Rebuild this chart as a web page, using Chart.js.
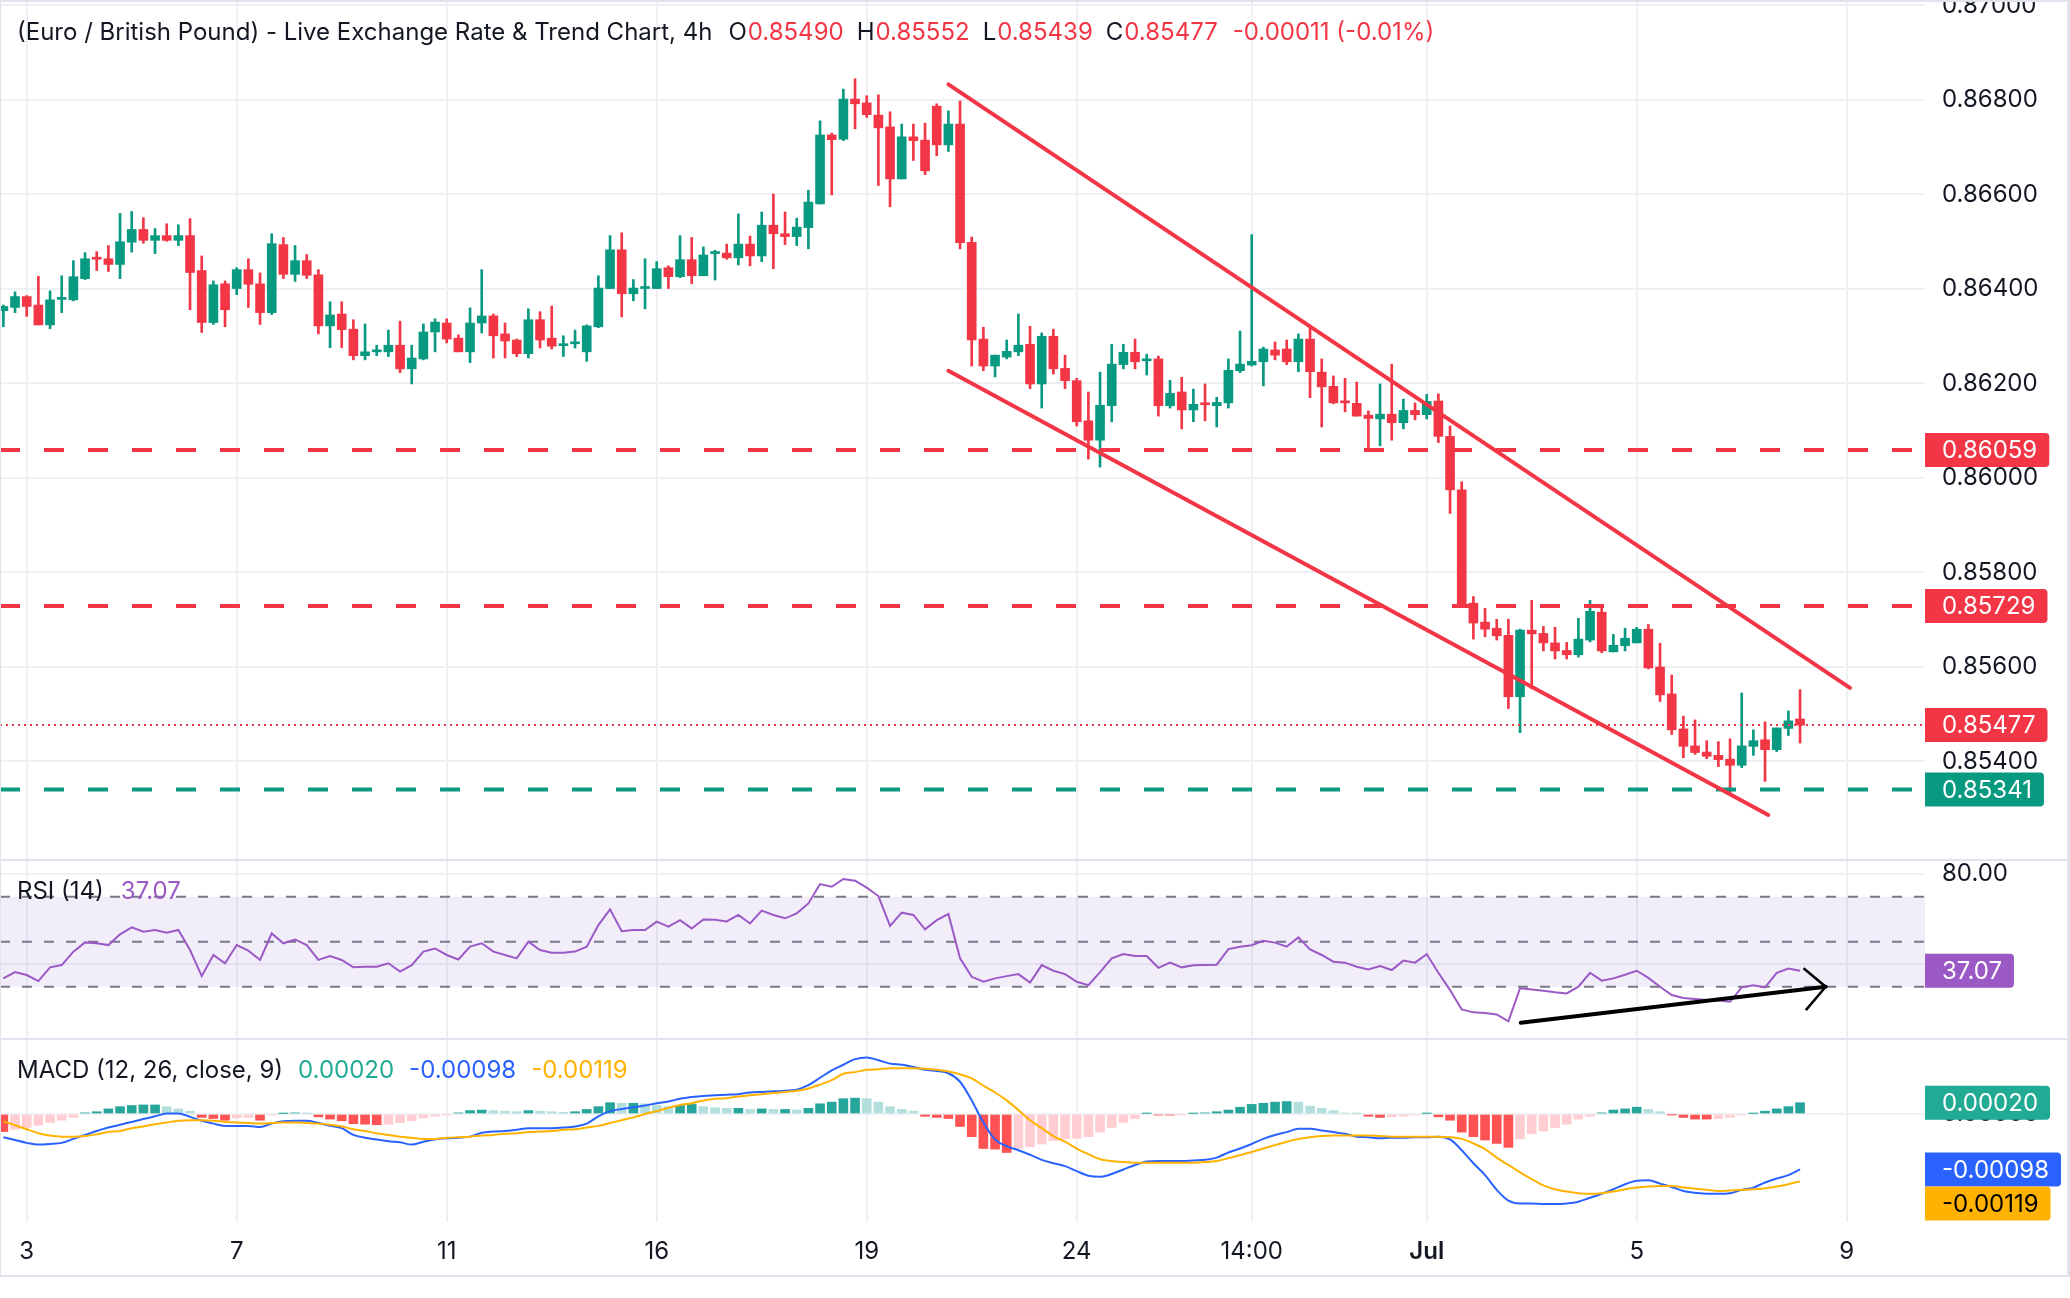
<!DOCTYPE html>
<html><head><meta charset="utf-8">
<script src="https://cdn.jsdelivr.net/npm/chart.js@4.4.1/dist/chart.umd.min.js"></script>
<style>
html,body{margin:0;padding:0;background:#fff;}
#wrap{position:relative;width:2070px;height:1298px;overflow:hidden;background:#fff;}
canvas{position:absolute;left:0;}
.ln{position:absolute;background:#E0E3EB;}
</style></head><body>
<div id="wrap">
<canvas id="main" width="2070" height="860" style="top:0;width:2070px;height:860px"></canvas>
<canvas id="rsi" width="2070" height="179" style="top:860px;width:2070px;height:179px"></canvas>
<canvas id="macd" width="2070" height="237" style="top:1039px;width:2070px;height:237px"></canvas>
<div class="ln" style="left:0;top:0;width:2070px;height:2px"></div>
<div class="ln" style="left:0;top:859px;width:2070px;height:2px"></div>
<div class="ln" style="left:0;top:1038px;width:2070px;height:2px"></div>
<div class="ln" style="left:0;top:1275px;width:2070px;height:2px"></div>
<div class="ln" style="left:2067px;top:0;width:3px;height:1277px"></div>
<div class="ln" style="left:0;top:0;width:1px;height:1277px"></div>
</div>
<script>
// ---------------- DATA ----------------
const OPEN = [0.86354,0.86361,0.86384,0.86366,0.86324,0.86378,0.86377,0.86422,0.86466,0.86464,
0.86452,0.86499,0.86526,0.86503,0.86513,0.86503,0.86513,0.86439,0.86329,0.86411,
0.86401,0.86441,0.86411,0.86350,0.86494,0.86431,0.86460,0.86430,0.86322,0.86347,
0.86315,0.86259,0.86267,0.86267,0.86281,0.86231,0.86252,0.86309,0.86328,0.86296,
0.86267,0.86328,0.86343,0.86305,0.86292,0.86263,0.86335,0.86296,0.86280,0.86284,
0.86267,0.86320,0.86401,0.86483,0.86390,0.86401,0.86401,0.86445,0.86426,0.86462,
0.86428,0.86475,0.86476,0.86466,0.86495,0.86470,0.86535,0.86517,0.86511,0.86530,
0.86580,0.86726,0.86717,0.86802,0.86794,0.86768,0.86743,0.86633,0.86722,0.86715,
0.86787,0.86705,0.86749,0.86499,0.86294,0.86237,0.86256,0.86267,0.86283,0.86199,
0.86300,0.86232,0.86206,0.86121,0.86080,0.86153,0.86240,0.86266,0.86248,0.86252,
0.86153,0.86182,0.86144,0.86159,0.86153,0.86159,0.86227,0.86239,0.86246,0.86271,
0.86273,0.86246,0.86294,0.86224,0.86194,0.86162,0.86158,0.86133,0.86125,0.86135,
0.86117,0.86143,0.86134,0.86163,0.86088,0.85975,0.85735,0.85695,0.85682,0.85667,
0.85537,0.85678,0.85671,0.85651,0.85635,0.85626,0.85657,0.85716,0.85632,0.85645,
0.85651,0.85680,0.85600,0.85543,0.85469,0.85433,0.85420,0.85413,0.85405,0.85392,
0.85432,0.85446,0.85425,0.85470,0.85490];
const HIGH = [0.86366,0.86394,0.86386,0.86427,0.86396,0.86428,0.86460,0.86477,0.86479,0.86492,
0.86560,0.86564,0.86551,0.86528,0.86538,0.86536,0.86549,0.86470,0.86417,0.86417,
0.86445,0.86464,0.86434,0.86517,0.86509,0.86492,0.86473,0.86441,0.86373,0.86373,
0.86335,0.86326,0.86281,0.86313,0.86332,0.86281,0.86326,0.86337,0.86337,0.86303,
0.86360,0.86441,0.86347,0.86328,0.86294,0.86358,0.86352,0.86364,0.86301,0.86313,
0.86324,0.86428,0.86513,0.86519,0.86420,0.86464,0.86458,0.86449,0.86513,0.86509,
0.86489,0.86482,0.86495,0.86559,0.86512,0.86563,0.86601,0.86563,0.86550,0.86609,
0.86756,0.86730,0.86823,0.86845,0.86809,0.86811,0.86775,0.86749,0.86749,0.86751,
0.86792,0.86777,0.86798,0.86510,0.86319,0.86260,0.86292,0.86347,0.86321,0.86307,
0.86315,0.86260,0.86211,0.86182,0.86224,0.86283,0.86283,0.86294,0.86262,0.86258,
0.86207,0.86213,0.86188,0.86199,0.86171,0.86252,0.86311,0.86515,0.86277,0.86288,
0.86292,0.86305,0.86317,0.86252,0.86216,0.86211,0.86203,0.86142,0.86199,0.86241,
0.86167,0.86159,0.86177,0.86178,0.86110,0.85992,0.85749,0.85724,0.85701,0.85701,
0.85680,0.85741,0.85686,0.85684,0.85652,0.85703,0.85741,0.85728,0.85669,0.85682,
0.85684,0.85690,0.85650,0.85583,0.85496,0.85488,0.85444,0.85442,0.85448,0.85545,
0.85467,0.85484,0.85471,0.85507,0.85552];
const LOW = [0.86320,0.86350,0.86342,0.86324,0.86316,0.86350,0.86375,0.86420,0.86439,0.86437,
0.86422,0.86478,0.86497,0.86475,0.86501,0.86492,0.86356,0.86308,0.86325,0.86320,
0.86388,0.86361,0.86325,0.86346,0.86422,0.86416,0.86422,0.86305,0.86276,0.86276,
0.86250,0.86250,0.86259,0.86257,0.86223,0.86199,0.86250,0.86267,0.86286,0.86267,
0.86244,0.86307,0.86254,0.86254,0.86257,0.86254,0.86275,0.86273,0.86257,0.86275,
0.86247,0.86318,0.86401,0.86341,0.86375,0.86358,0.86401,0.86401,0.86424,0.86411,
0.86428,0.86419,0.86463,0.86451,0.86449,0.86458,0.86443,0.86494,0.86492,0.86485,
0.86580,0.86599,0.86714,0.86739,0.86763,0.86619,0.86574,0.86633,0.86672,0.86642,
0.86682,0.86691,0.86485,0.86237,0.86227,0.86214,0.86252,0.86259,0.86189,0.86148,
0.86220,0.86189,0.86110,0.86040,0.86023,0.86119,0.86231,0.86231,0.86218,0.86131,
0.86148,0.86104,0.86119,0.86121,0.86108,0.86148,0.86223,0.86237,0.86195,0.86250,
0.86240,0.86225,0.86170,0.86108,0.86157,0.86140,0.86131,0.86060,0.86068,0.86080,
0.86104,0.86123,0.86125,0.86075,0.85925,0.85729,0.85659,0.85664,0.85657,0.85512,
0.85461,0.85554,0.85634,0.85617,0.85617,0.85621,0.85653,0.85630,0.85632,0.85634,
0.85651,0.85596,0.85527,0.85457,0.85408,0.85415,0.85406,0.85389,0.85333,0.85387,
0.85413,0.85358,0.85421,0.85455,0.85439];
const CLOSE = [0.86363,0.86384,0.86363,0.86324,0.86377,0.86382,0.86426,0.86464,0.86463,0.86452,
0.86500,0.86526,0.86503,0.86513,0.86503,0.86513,0.86435,0.86329,0.86409,0.86356,
0.86441,0.86410,0.86350,0.86496,0.86431,0.86460,0.86429,0.86322,0.86345,0.86314,
0.86259,0.86267,0.86271,0.86281,0.86231,0.86254,0.86309,0.86330,0.86294,0.86267,
0.86328,0.86343,0.86301,0.86290,0.86263,0.86335,0.86292,0.86279,0.86284,0.86288,
0.86322,0.86402,0.86483,0.86390,0.86402,0.86405,0.86443,0.86426,0.86462,0.86428,
0.86472,0.86479,0.86466,0.86495,0.86470,0.86535,0.86517,0.86511,0.86531,0.86584,
0.86726,0.86716,0.86802,0.86792,0.86769,0.86741,0.86633,0.86722,0.86714,0.86650,
0.86705,0.86749,0.86498,0.86292,0.86237,0.86260,0.86268,0.86281,0.86199,0.86300,
0.86231,0.86206,0.86119,0.86080,0.86154,0.86241,0.86266,0.86246,0.86252,0.86153,
0.86179,0.86144,0.86156,0.86155,0.86160,0.86228,0.86241,0.86247,0.86273,0.86260,
0.86246,0.86294,0.86225,0.86193,0.86159,0.86159,0.86131,0.86126,0.86135,0.86117,
0.86143,0.86134,0.86162,0.86088,0.85975,0.85729,0.85693,0.85680,0.85666,0.85537,
0.85678,0.85670,0.85651,0.85634,0.85626,0.85659,0.85718,0.85634,0.85646,0.85661,
0.85680,0.85598,0.85541,0.85467,0.85432,0.85419,0.85411,0.85404,0.85392,0.85433,
0.85444,0.85425,0.85471,0.85486,0.85477];

const RSI = [33.7,36.5,35.2,32.5,38.6,39.6,45.6,49.7,49.3,48.5,
53.3,56.4,54.4,55.2,54.0,55.2,46.3,34.7,44.1,40.4,
48.5,46.0,41.9,53.7,49.3,51.0,48.5,41.9,43.6,41.9,
38.6,38.9,38.9,40.4,36.7,39.6,45.6,47.0,44.1,42.1,
47.8,49.3,45.6,44.1,42.6,50.0,46.3,45.1,45.1,45.6,
47.8,57.4,64.4,54.7,55.2,55.2,58.9,56.7,59.6,55.9,
59.9,59.8,59.0,61.9,58.1,63.8,61.9,60.4,62.6,67.0,
75.6,74.4,77.9,77.1,74.0,70.3,57.0,62.9,61.9,55.5,
59.6,62.3,42.6,34.4,32.2,33.7,34.7,35.6,31.8,39.6,
37.1,35.6,32.2,30.7,36.5,42.6,44.5,43.6,43.6,38.4,
40.7,38.6,39.5,39.6,39.8,46.7,47.8,48.4,50.4,49.6,
47.8,51.9,46.6,44.1,41.1,40.7,38.9,37.7,39.2,37.4,
41.6,40.7,44.5,36.2,28.5,19.9,18.6,18.3,17.7,14.6,
29.3,28.8,28.2,27.5,27.0,30.0,36.2,32.7,33.7,35.3,
37.1,33.9,30.0,26.3,25.0,24.5,24.1,23.9,23.3,29.7,
30.6,29.7,36.2,38.1,37.07];

const MACD_LINE = [-0.00041,-0.00046,-0.00051,-0.00054,-0.00053,-0.00051,-0.00044,-0.00037,-0.00030,-0.00024,
-0.00019,-0.00014,-0.00009,-0.00004,0.00001,0.00001,-0.00005,-0.00012,-0.00017,-0.00021,
-0.00021,-0.00021,-0.00023,-0.00017,-0.00013,-0.00012,-0.00012,-0.00016,-0.00021,-0.00025,
-0.00037,-0.00042,-0.00045,-0.00048,-0.00050,-0.00054,-0.00049,-0.00045,-0.00043,-0.00042,
-0.00040,-0.00033,-0.00031,-0.00030,-0.00028,-0.00025,-0.00025,-0.00025,-0.00024,-0.00022,
-0.00017,-0.00004,0.00005,0.00009,0.00012,0.00015,0.00019,0.00022,0.00027,0.00030,
0.00032,0.00033,0.00034,0.00035,0.00038,0.00039,0.00040,0.00041,0.00043,0.00051,
0.00064,0.00077,0.00087,0.00097,0.00100,0.00095,0.00089,0.00087,0.00083,0.00078,
0.00076,0.00072,0.00057,0.00024,-0.00015,-0.00045,-0.00057,-0.00064,-0.00072,-0.00081,
-0.00087,-0.00092,-0.00101,-0.00109,-0.00111,-0.00106,-0.00098,-0.00090,-0.00084,-0.00083,
-0.00083,-0.00083,-0.00082,-0.00081,-0.00077,-0.00068,-0.00061,-0.00053,-0.00044,-0.00037,
-0.00032,-0.00026,-0.00026,-0.00029,-0.00032,-0.00035,-0.00040,-0.00041,-0.00043,-0.00042,
-0.00042,-0.00041,-0.00041,-0.00040,-0.00045,-0.00064,-0.00087,-0.00108,-0.00134,-0.00153,
-0.00158,-0.00158,-0.00159,-0.00159,-0.00158,-0.00155,-0.00148,-0.00141,-0.00133,-0.00124,
-0.00118,-0.00117,-0.00123,-0.00129,-0.00136,-0.00139,-0.00141,-0.00141,-0.00140,-0.00134,
-0.00130,-0.00121,-0.00114,-0.00108,-0.00098];
const SIGNAL = [-0.00013,-0.00020,-0.00027,-0.00034,-0.00038,-0.00040,-0.00040,-0.00039,-0.00036,-0.00032,
-0.00030,-0.00025,-0.00022,-0.00018,-0.00015,-0.00012,-0.00011,-0.00011,-0.00012,-0.00014,
-0.00015,-0.00016,-0.00017,-0.00016,-0.00015,-0.00015,-0.00016,-0.00017,-0.00019,-0.00022,
-0.00027,-0.00030,-0.00034,-0.00037,-0.00040,-0.00042,-0.00044,-0.00044,-0.00042,-0.00041,
-0.00040,-0.00038,-0.00037,-0.00035,-0.00034,-0.00032,-0.00031,-0.00030,-0.00028,-0.00027,
-0.00024,-0.00021,-0.00016,-0.00011,-0.00006,0.00000,0.00005,0.00011,0.00016,0.00019,
0.00024,0.00027,0.00028,0.00031,0.00033,0.00035,0.00037,0.00039,0.00041,0.00045,
0.00052,0.00060,0.00071,0.00074,0.00078,0.00079,0.00081,0.00081,0.00081,0.00080,
0.00078,0.00075,0.00070,0.00063,0.00050,0.00038,0.00024,0.00007,-0.00011,-0.00025,
-0.00039,-0.00049,-0.00061,-0.00071,-0.00080,-0.00083,-0.00085,-0.00086,-0.00086,-0.00086,
-0.00086,-0.00086,-0.00086,-0.00085,-0.00083,-0.00078,-0.00073,-0.00067,-0.00061,-0.00055,
-0.00049,-0.00044,-0.00041,-0.00039,-0.00038,-0.00038,-0.00038,-0.00038,-0.00039,-0.00040,
-0.00040,-0.00040,-0.00040,-0.00040,-0.00041,-0.00044,-0.00052,-0.00062,-0.00077,-0.00090,
-0.00103,-0.00115,-0.00126,-0.00133,-0.00137,-0.00140,-0.00141,-0.00140,-0.00137,-0.00133,
-0.00130,-0.00128,-0.00127,-0.00127,-0.00130,-0.00132,-0.00134,-0.00136,-0.00135,-0.00134,
-0.00133,-0.00131,-0.00128,-0.00124,-0.00119];
const HIST = [-0.00031,-0.00027,-0.00024,-0.00020,-0.00015,-0.00011,-0.00006,0.00002,0.00004,0.00009,
0.00013,0.00015,0.00016,0.00016,0.00013,0.00009,0.00005,-0.00006,-0.00008,-0.00011,
-0.00007,-0.00006,-0.00011,-0.00002,0.00001,0.00002,0.00001,-0.00005,-0.00009,-0.00012,
-0.00017,-0.00018,-0.00019,-0.00018,-0.00015,-0.00012,-0.00007,-0.00004,-0.00001,0.00002,
0.00006,0.00007,0.00006,0.00005,0.00004,0.00006,0.00005,0.00004,0.00003,0.00004,
0.00008,0.00013,0.00020,0.00019,0.00019,0.00018,0.00015,0.00013,0.00015,0.00017,
0.00013,0.00011,0.00010,0.00010,0.00008,0.00009,0.00008,0.00008,0.00007,0.00010,
0.00018,0.00021,0.00027,0.00028,0.00027,0.00021,0.00013,0.00008,0.00005,-0.00004,
-0.00006,-0.00008,-0.00022,-0.00040,-0.00061,-0.00062,-0.00068,-0.00061,-0.00058,-0.00053,
-0.00047,-0.00044,-0.00043,-0.00040,-0.00032,-0.00024,-0.00015,-0.00008,0.00001,-0.00002,
-0.00002,-0.00001,0.00001,0.00002,0.00004,0.00007,0.00012,0.00017,0.00019,0.00021,
0.00022,0.00021,0.00014,0.00010,0.00006,0.00002,0.00001,-0.00004,-0.00006,-0.00005,
-0.00004,-0.00002,0.00001,-0.00005,-0.00011,-0.00032,-0.00040,-0.00046,-0.00052,-0.00059,
-0.00044,-0.00035,-0.00030,-0.00024,-0.00018,-0.00009,-0.00004,0.00002,0.00007,0.00009,
0.00012,0.00008,0.00004,-0.00001,-0.00006,-0.00009,-0.00009,-0.00008,-0.00006,-0.00002,
0.00001,0.00005,0.00009,0.00013,0.00020];

const TIME_TICK_INDEX = [2, 20, 38, 56, 74, 92, 107, 122, 140, 158];
const TIME_TICK_LABELS = ['3', '7', '11', '16', '19', '24', '14:00', 'Jul', '5', '9'];
const PRICE_TICKS = [0.870, 0.868, 0.866, 0.864, 0.862, 0.860, 0.858, 0.856, 0.854];
const RSI_TICKS = [80, 40];
const RSI_TICK_LABELS = ['80.00', ''];
const MACD_TICKS = [0];
const RSI_LEVELS = [70, 50, 30];

const RESISTANCE_1 = 0.86059;
const RESISTANCE_2 = 0.85729;
const SUPPORT_1 = 0.85341;
const LAST_PRICE = 0.85477;
const CHANNEL_UPPER = [[81.0, 0.86833], [158.28, 0.85556]];
const CHANNEL_LOWER = [[81.0, 0.86227], [151.28, 0.85287]];
const RSI_ARROW = [[130.06, 14.0], [156.2, 30.0]];
const RSI_ARROW_HEAD = [[154.3, 38.2], [156.2, 30.0], [154.5, 19.6]];

const TITLE = '(Euro / British Pound) - Live Exchange Rate & Trend Chart, 4h';
const CHANGE_TEXT = '-0.00011 (-0.01%)';

// ---------------- STYLE ----------------
const UP = '#089981', DOWN = '#F23645', TEXT = '#131722', GRID = '#EEF0F3';
const RSI_COLOR = '#9B59C6', MACD_COLOR = '#2962FF', SIGNAL_COLOR = '#FFB300', HIST_TXT = '#22AB94';
const FONT = 'Inter';
const FS = 24;
const XMIN = -0.29, XMAX = 164.71;
const AXIS_W = 145;

const last = OPEN.length - 1;
const IDX = OPEN.map((_, i) => i);
const candleColors = IDX.map(i => CLOSE[i] >= OPEN[i] ? UP : DOWN);
const histColors = HIST.map((v, i) => {
  const p = i > 0 ? HIST[i - 1] : v;
  if (v >= 0) return v >= p ? '#26A69A' : '#B2DFDB';
  return v <= p ? '#FF5252' : '#FFCDD2';
});

function noPad(s) { s.paddingTop = 0; s.paddingBottom = 0; s.paddingLeft = 0; s.paddingRight = 0; }
function pts(arr) { return arr.map(p => ({ x: p[0], y: p[1] })); }
function hline(v) { return [{ x: XMIN, y: v }, { x: XMAX, y: v }]; }

function makeX(showLabels) {
  const o = {
    type: 'linear', min: XMIN, max: XMAX, offset: false, position: 'bottom',
    afterBuildTicks: s => { s.ticks = TIME_TICK_INDEX.map(v => ({ value: v })); },
    afterFit: s => { s.height = showLabels ? 54 : 0; noPad(s); },
    grid: { color: GRID, lineWidth: 2, drawTicks: false, offset: false },
    border: { display: false },
    ticks: { display: false }
  };
  if (showLabels) {
    o.ticks = {
      display: true, autoSkip: false, maxRotation: 0, padding: 15, color: TEXT,
      callback: (v, i) => TIME_TICK_LABELS[i],
      font: c => ({ family: FONT, size: FS, weight: TIME_TICK_LABELS[c.index] === 'Jul' ? '600' : '400' })
    };
  }
  return o;
}
function makeY(min, max, ticks, fmt) {
  return {
    type: 'linear', position: 'right', min, max, beginAtZero: false,
    afterBuildTicks: s => { s.ticks = ticks.map(v => ({ value: v })); },
    afterFit: s => { s.width = AXIS_W; noPad(s); },
    ticks: { callback: fmt, color: TEXT, font: { family: FONT, size: FS }, padding: 17, autoSkip: false },
    grid: { color: GRID, lineWidth: 2, drawTicks: false },
    border: { display: false }
  };
}

function drawSeq(ctx, x, y, parts) {
  ctx.save();
  ctx.font = FS + 'px ' + FONT;
  ctx.textBaseline = 'middle'; ctx.textAlign = 'left';
  for (const [t, c, gap] of parts) {
    ctx.fillStyle = c; ctx.fillText(t, x, y);
    x += ctx.measureText(t).width + (gap || 0);
  }
  ctx.restore();
}
function axisBox(ctx, x0, yc, bg, fg, text) {
  ctx.save();
  ctx.font = FS + 'px ' + FONT;
  const w = ctx.measureText(text).width;
  const tx = x0 + 17, h = 34;
  ctx.fillStyle = bg;
  ctx.beginPath(); ctx.roundRect(x0, yc - h / 2, tx + w + 12 - x0, h, [0, 4, 4, 0]); ctx.fill();
  ctx.fillStyle = fg; ctx.textBaseline = 'middle'; ctx.textAlign = 'left';
  ctx.fillText(text, tx, yc + 1);
  ctx.restore();
}

const baseOpts = {
  responsive: false, animation: false, devicePixelRatio: 1,
  layout: { padding: 0, autoPadding: false },
  plugins: { legend: { display: false }, tooltip: { enabled: false } }
};
Chart.defaults.font.family = FONT;

// ---------------- MAIN ----------------
new Chart(document.getElementById('main'), {
  type: 'bar',
  data: { datasets: [
    { type: 'line', data: hline(RESISTANCE_1), borderColor: DOWN, borderWidth: 4, borderDash: [20, 24], pointRadius: 0, order: 1 },
    { type: 'line', data: hline(RESISTANCE_2), borderColor: DOWN, borderWidth: 4, borderDash: [20, 24], pointRadius: 0, order: 1 },
    { type: 'line', data: hline(SUPPORT_1), borderColor: UP, borderWidth: 4, borderDash: [20, 24], pointRadius: 0, order: 1 },
    { type: 'line', data: hline(LAST_PRICE), borderColor: DOWN, borderWidth: 2, borderDash: [2, 4], pointRadius: 0, order: 1 },
    { type: 'line', data: pts(CHANNEL_UPPER), borderColor: DOWN, borderWidth: 4, pointRadius: 0, order: 0, borderCapStyle: 'round' },
    { type: 'line', data: pts(CHANNEL_LOWER), borderColor: DOWN, borderWidth: 4, pointRadius: 0, order: 0, borderCapStyle: 'round' },
    { data: IDX.map(i => ({ x: i, y: [LOW[i], HIGH[i]] })), backgroundColor: candleColors, barThickness: 2, grouped: false, order: 3 },
    { data: IDX.map(i => ({ x: i, y: [OPEN[i], CLOSE[i]] })), backgroundColor: candleColors, barThickness: 9, minBarLength: 2, grouped: false, order: 2 }
  ] },
  options: Object.assign({}, baseOpts, {
    scales: { x: makeX(false), y: makeY(0.8519153, 0.8701164, PRICE_TICKS, v => v.toFixed(5)) }
  }),
  plugins: [{
    id: 'mainOverlay',
    afterDraw(chart) {
      const { ctx, chartArea, scales: { y } } = chart;
      drawSeq(ctx, 17, 33, [
        [TITLE, TEXT, 16],
        ['O', TEXT, 1], [OPEN[last].toFixed(5), DOWN, 13],
        ['H', TEXT, 1], [HIGH[last].toFixed(5), DOWN, 13],
        ['L', TEXT, 1], [LOW[last].toFixed(5), DOWN, 13],
        ['C', TEXT, 1], [CLOSE[last].toFixed(5), DOWN, 15],
        [CHANGE_TEXT, DOWN, 0]
      ]);
      const x0 = chartArea.right;
      axisBox(ctx, x0, y.getPixelForValue(RESISTANCE_1), DOWN, '#fff', RESISTANCE_1.toFixed(5));
      axisBox(ctx, x0, y.getPixelForValue(RESISTANCE_2), DOWN, '#fff', RESISTANCE_2.toFixed(5));
      axisBox(ctx, x0, y.getPixelForValue(LAST_PRICE), DOWN, '#fff', LAST_PRICE.toFixed(5));
      axisBox(ctx, x0, y.getPixelForValue(SUPPORT_1), UP, '#fff', SUPPORT_1.toFixed(5));
    }
  }]
});

// ---------------- RSI ----------------
new Chart(document.getElementById('rsi'), {
  type: 'line',
  data: { datasets: [
    { data: hline(RSI_LEVELS[2]), borderColor: '#787B86', borderWidth: 2, borderDash: [10, 12], pointRadius: 0, order: 3 },
    { data: hline(RSI_LEVELS[0]), borderColor: '#787B86', borderWidth: 2, borderDash: [10, 12], pointRadius: 0, order: 3,
      fill: { target: 0 }, backgroundColor: 'rgba(126,87,194,0.1)' },
    { data: hline(RSI_LEVELS[1]), borderColor: '#787B86', borderWidth: 2, borderDash: [10, 12], pointRadius: 0, order: 3 },
    { data: IDX.map(i => ({ x: i, y: RSI[i] })), borderColor: RSI_COLOR, borderWidth: 2, pointRadius: 0, order: 1 },
    { data: pts(RSI_ARROW), borderColor: '#000', borderWidth: 4, pointRadius: 0, order: 0, borderCapStyle: 'round' },
    { data: pts(RSI_ARROW_HEAD), borderColor: '#000', borderWidth: 2.5, pointRadius: 0, order: 0 }
  ] },
  options: Object.assign({}, baseOpts, {
    scales: { x: makeX(false), y: makeY(6.76, 86.31, RSI_TICKS, (v, i) => RSI_TICK_LABELS[i]) }
  }),
  plugins: [{
    id: 'rsiOverlay',
    afterDraw(chart) {
      const { ctx, chartArea, scales: { y } } = chart;
      drawSeq(ctx, 17, 32, [['RSI (14)', TEXT, 17], [RSI[last].toFixed(2), RSI_COLOR, 0]]);
      axisBox(ctx, chartArea.right, y.getPixelForValue(RSI[last]), RSI_COLOR, '#fff', RSI[last].toFixed(2));
    }
  }]
});

// ---------------- MACD ----------------
new Chart(document.getElementById('macd'), {
  type: 'bar',
  data: { datasets: [
    { type: 'line', data: IDX.map(i => ({ x: i, y: MACD_LINE[i] })), borderColor: MACD_COLOR, borderWidth: 2, pointRadius: 0, order: 1, cubicInterpolationMode: 'monotone' },
    { type: 'line', data: IDX.map(i => ({ x: i, y: SIGNAL[i] })), borderColor: SIGNAL_COLOR, borderWidth: 2, pointRadius: 0, order: 0, cubicInterpolationMode: 'monotone' },
    { data: IDX.map(i => ({ x: i, y: HIST[i] })), backgroundColor: histColors, barThickness: 9, grouped: false, order: 2 }
  ] },
  options: Object.assign({}, baseOpts, {
    scales: { x: makeX(true), y: makeY(-0.001908, 0.001325, MACD_TICKS, v => v.toFixed(5)) }
  }),
  plugins: [{
    id: 'macdOverlay',
    afterDraw(chart) {
      const { ctx, chartArea, scales: { y } } = chart;
      drawSeq(ctx, 17, 32, [
        ['MACD (12, 26, close, 9)', TEXT, 15],
        [HIST[last].toFixed(5), HIST_TXT, 15],
        [MACD_LINE[last].toFixed(5), MACD_COLOR, 15],
        [SIGNAL[last].toFixed(5), SIGNAL_COLOR, 0]
      ]);
      const x0 = chartArea.right;
      axisBox(ctx, x0, y.getPixelForValue(HIST[last]), HIST_TXT, '#fff', HIST[last].toFixed(5));
      const yb = y.getPixelForValue(MACD_LINE[last]);
      axisBox(ctx, x0, yb, MACD_COLOR, '#fff', MACD_LINE[last].toFixed(5));
      const yo = Math.max(y.getPixelForValue(SIGNAL[last]), yb + 34);
      axisBox(ctx, x0, yo, SIGNAL_COLOR, '#000', SIGNAL[last].toFixed(5));
    }
  }]
});
</script>
</body></html>
